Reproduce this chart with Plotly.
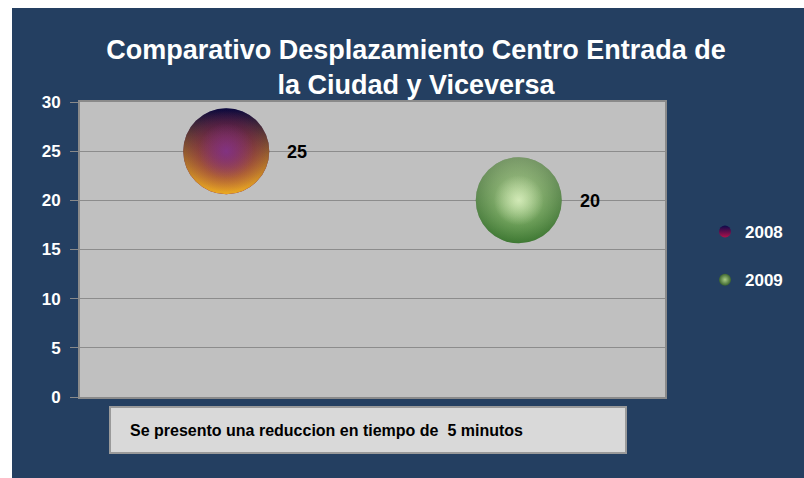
import plotly.graph_objects as go

# --- data ---
years = ["2008", "2009"]
positions = [1, 2]
minutes = [25, 20]
y_ticks = [0, 5, 10, 15, 20, 25, 30]
title_lines = ["Comparativo Desplazamiento Centro Entrada de", "la Ciudad y Viceversa"]
note_text = "Se presento una reduccion en tiempo de  5 minutos"

W, H = 804, 478
L, R, T, B = 80, 139, 102, 81
PW, PH = W - L - R, H - T - B

NAVY = "#243f61"
FONT = "Liberation Sans Narrow, Liberation Sans, Arial Narrow, sans-serif"


def px_x(p):
    return (p - L) / PW


def px_y(p):
    return 1 - (p - T) / PH


BUBBLE = 86


def sphere_layer(idx, size, color, grad_type, grad_color, legend=False):
    fig.add_trace(go.Scatter(
        x=positions[idx:idx + 1], y=minutes[idx:idx + 1], mode="markers",
        name=years[idx], showlegend=legend, legendgroup=years[idx],
        hoverinfo="skip" if not legend else None,
        marker=dict(size=size, color=color,
                    gradient=dict(type=grad_type, color=grad_color),
                    line=dict(width=0)),
    ))


fig = go.Figure()

# sphere 2008: navy top to crimson, orange rim at the bottom
sphere_layer(0, BUBBLE, "#0c0a4c", "vertical", "#b0104a", legend=True)
sphere_layer(0, BUBBLE, "rgba(8,4,40,0.4)", "radial", "rgba(8,4,40,0)")
sphere_layer(0, BUBBLE, "rgba(255,195,30,0)", "vertical", "rgba(255,195,30,0.85)")
sphere_layer(0, 82, "rgba(110,15,80,0)", "radial", "rgba(110,15,80,0.95)")
sphere_layer(0, 56, "rgba(150,90,190,0)", "radial", "rgba(150,90,190,0.45)")

# sphere 2009: pale green core to darker green edge
sphere_layer(1, BUBBLE, "#3a632e", "radial", "#a9cc84", legend=True)
sphere_layer(1, BUBBLE, "rgba(235,250,210,0.35)", "vertical", "rgba(70,160,60,0.35)")
sphere_layer(1, 50, "rgba(240,252,215,0)", "radial", "rgba(240,252,215,0.6)")

# value labels beside each sphere
for xv, yv in zip(positions, minutes):
    fig.add_annotation(x=xv, y=yv, text=f"<b>{yv}</b>", showarrow=False,
                       xanchor="left", yanchor="middle", xshift=59, yshift=-1,
                       font=dict(family=FONT, size=18, color="black"))

# thin white margin along the top and left edges
fig.add_shape(type="rect", xref="paper", yref="paper",
              x0=px_x(-2), x1=px_x(W + 2), y0=px_y(8), y1=px_y(-2),
              fillcolor="white", line=dict(width=0))
fig.add_shape(type="rect", xref="paper", yref="paper",
              x0=px_x(-2), x1=px_x(12), y0=px_y(H + 2), y1=px_y(-2),
              fillcolor="white", line=dict(width=0))

# note box below the plot
fig.add_shape(type="rect", xref="paper", yref="paper",
              x0=px_x(110), x1=px_x(626), y0=px_y(453), y1=px_y(407),
              fillcolor="#d9d9d9", line=dict(color="#9a9a9a", width=2))
fig.add_annotation(xref="paper", yref="paper", x=px_x(128), y=px_y(430),
                   xanchor="left", yanchor="middle", showarrow=False,
                   text=f"<b>{note_text}</b>",
                   font=dict(family=FONT, size=16, color="black"))

fig.update_layout(
    width=W, height=H,
    margin=dict(l=L, r=R, t=T, b=B, pad=0),
    paper_bgcolor=NAVY,
    plot_bgcolor="#c0c0c0",
    title=dict(text="<b>" + "<br>".join(title_lines) + "</b>",
               x=416 / W, xanchor="center",
               y=1 - 59 / H, yanchor="middle",
               font=dict(family=FONT, size=27, color="white")),
    xaxis=dict(range=[0.5, 2.5], showticklabels=False, showgrid=False,
               zeroline=False, showline=True, linecolor="#8a8a8a", linewidth=2,
               mirror=True, ticks=""),
    yaxis=dict(range=[0, 30], tickvals=y_ticks,
               ticktext=[f"<b>{v}</b>" for v in y_ticks], showgrid=True,
               gridcolor="#8c8c8c", gridwidth=1, zeroline=False,
               showline=True, linecolor="#8a8a8a", linewidth=2, mirror=True,
               ticks="outside", ticklen=8, tickcolor="#8a8a8a", tickwidth=1,
               tickfont=dict(family=FONT, size=17, color="white"),
               ticklabelstandoff=6),
    legend=dict(x=px_x(705), y=px_y(214), xanchor="left", yanchor="top",
                bgcolor="rgba(0,0,0,0)", itemsizing="constant",
                itemwidth=30, traceorder="grouped", tracegroupgap=23,
                font=dict(family=FONT, size=17, color="white")),
    showlegend=True,
)

for tr in fig.data:
    if tr.showlegend:
        tr.name = f"<b>{tr.name}</b>"

fig.write_html("out.html")
